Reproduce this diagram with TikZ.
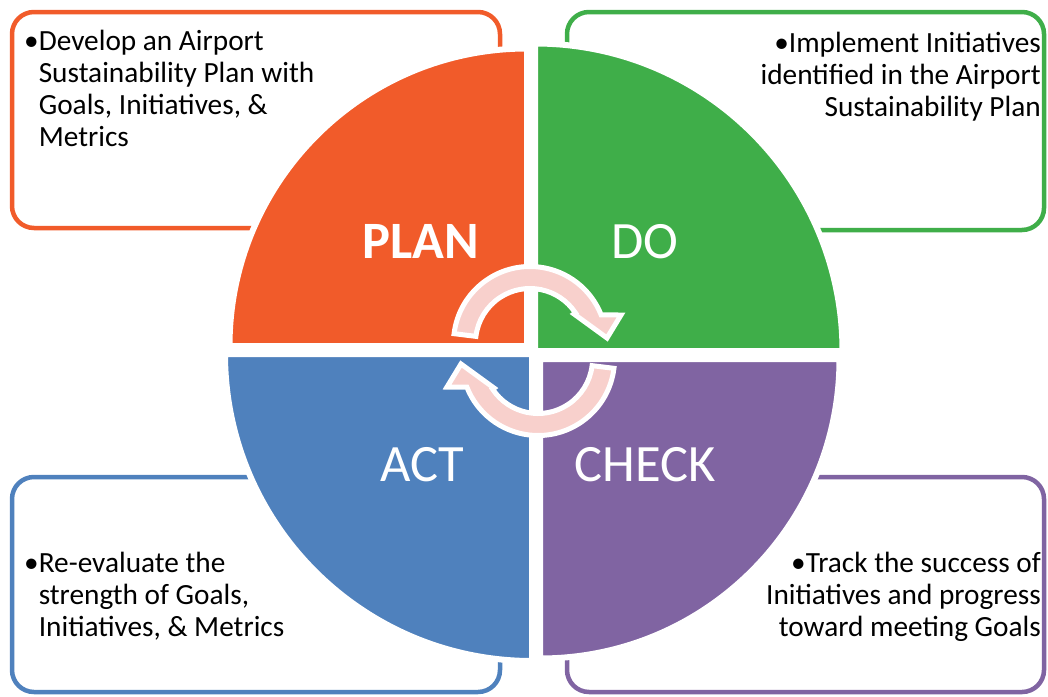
\documentclass[tikz,border=0pt]{standalone}
\usepackage{fontspec}
\usetikzlibrary{calc}
\setmainfont{Carlito}
\definecolor{cplan}{RGB}{241,91,42}
\definecolor{cdo}{RGB}{63,174,73}
\definecolor{cact}{RGB}{79,129,189}
\definecolor{ccheck}{RGB}{128,100,162}
\definecolor{cpink}{RGB}{248,208,204}
\tikzset{
  infobox/.style={line width=4.5pt, rounded corners=22pt, fill=white},
  quarter/.style={draw=white, line width=6pt},
  cyclearrow/.style={fill=cpink, draw=white, line width=5pt, line join=miter},
  boxtext/.style={inner sep=0pt, font=\fontsize{29.3}{32}\selectfont, text=black},
  bigtext/.style={inner sep=0pt, font=\fontsize{52.5}{60}\selectfont, text=white},
}
\begin{document}
\begin{tikzpicture}[x=1pt,y=-1pt]
\useasboundingbox (0,0) rectangle (1048,696);
% boxes
\draw[infobox, draw=cplan]  (12,12)  rectangle (500,228);
\draw[infobox, draw=cdo]    (567,12) rectangle (1044,230);
\draw[infobox, draw=cact]   (12,477) rectangle (500,692);
\draw[infobox, draw=ccheck] (567,477) rectangle (1044,692);
% box texts (base anchor = baseline of last line)
\node[boxtext, anchor=base west, align=left] (plantext) at (24,146)
  {•Develop an Airport\\\hphantom{•}Sustainability Plan with\\\hphantom{•}Goals, Initiatives, \&\\\hphantom{•}Metrics};
\node[boxtext, anchor=base east, align=right] (dotext) at (1041,116)
  {•Implement Initiatives\\identified in the Airport\\Sustainability Plan};
\node[boxtext, anchor=base west, align=left] (acttext) at (24,636)
  {•Re-evaluate the\\\hphantom{•}strength of Goals,\\\hphantom{•}Initiatives, \& Metrics};
\node[boxtext, anchor=base east, align=right] (checktext) at (1041,636)
  {•Track the success of\\Initiatives and progress\\toward meeting Goals};
% quarter discs
\path[quarter, fill=cplan]  (527,346) -- ++(-297.5,0) arc[start angle=180, end angle=270, radius=297.5] -- cycle;
\path[quarter, fill=cdo]    (535,351) -- ++(0,-307.5) arc[start angle=270, end angle=360, radius=307.5] -- cycle;
\path[quarter, fill=ccheck] (540,359) -- ++(299.5,0) arc[start angle=0, end angle=90, radius=299.5] -- cycle;
\path[quarter, fill=cact]   (532,354) -- ++(0,307) arc[start angle=90, end angle=180, radius=307] -- cycle;
% labels
\node[bigtext, anchor=base, font=\fontsize{52.5}{60}\selectfont\bfseries] (plan) at (421,258) {PLAN};
\node[bigtext, anchor=base] (do) at (645,258) {DO};
\node[bigtext, anchor=base] (act) at (422,481) {ACT};
\node[bigtext, anchor=base] (check) at (645,481) {CHECK};
% cycle arrows
\path[cyclearrow] (530,343) ++(187:76.5) arc[start angle=187, end angle=338.5, radius=76.5]
  -- (621,315) -- (607,338) -- (574,314)
  -- ($(530,343)+(326.6:54.5)$) arc[start angle=326.6, end angle=187, radius=54.5] -- cycle;
\begin{scope}[rotate around={180:(534,351)}]
\path[cyclearrow] (530,343) ++(187:76.5) arc[start angle=187, end angle=338.5, radius=76.5]
  -- (621,315) -- (607,338) -- (574,314)
  -- ($(530,343)+(326.6:54.5)$) arc[start angle=326.6, end angle=187, radius=54.5] -- cycle;
\end{scope}
\end{tikzpicture}
\end{document}
